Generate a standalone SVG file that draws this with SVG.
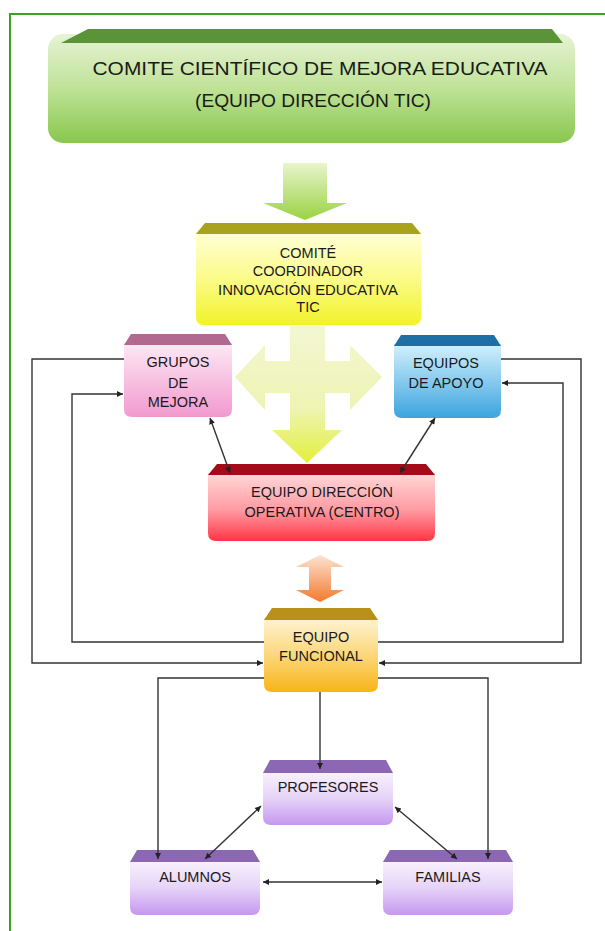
<svg xmlns="http://www.w3.org/2000/svg" width="605" height="931" viewBox="0 0 605 931">
<style>
  .t { font-family: "Liberation Sans", Arial, sans-serif; fill: #1a1a1a; text-anchor: middle; font-size: 14.5px; }
  .tb { font-size: 19px; }
  .c { fill: none; stroke: #333; stroke-width: 1.4; }
  .a { marker-end: url(#ah); }
  .d { marker-start: url(#ah); marker-end: url(#ah); }
</style>
<defs>
  <marker id="ah" viewBox="0 0 10 10" refX="10" refY="5" markerWidth="8" markerHeight="6" markerUnits="userSpaceOnUse" orient="auto-start-reverse">
    <path d="M0,0 L10,5 L0,10 Z" fill="#222"/>
  </marker>
  <linearGradient id="gGreen" x1="0" y1="0" x2="0" y2="1"><stop offset="0" stop-color="#e6f3d4"/><stop offset="0.5" stop-color="#bfe297"/><stop offset="1" stop-color="#88c74e"/></linearGradient>
  <linearGradient id="gGreenArrow" x1="0" y1="0" x2="0" y2="1"><stop offset="0" stop-color="#e8f5cc"/><stop offset="1" stop-color="#9ad243"/></linearGradient>
  <linearGradient id="gYellow" x1="0" y1="0" x2="0" y2="1"><stop offset="0" stop-color="#ffffd6"/><stop offset="0.5" stop-color="#fbfb8a"/><stop offset="1" stop-color="#f2f22a"/></linearGradient>
  <linearGradient id="gCross" x1="0" y1="0" x2="0" y2="1"><stop offset="0" stop-color="#f3f7d2"/><stop offset="0.6" stop-color="#eef4b4"/><stop offset="1" stop-color="#e3ef3a"/></linearGradient>
  <linearGradient id="gPink" x1="0" y1="0" x2="0" y2="1"><stop offset="0" stop-color="#fde9f5"/><stop offset="1" stop-color="#f299cf"/></linearGradient>
  <linearGradient id="gBlue" x1="0" y1="0" x2="0" y2="1"><stop offset="0" stop-color="#d4f1fc"/><stop offset="1" stop-color="#3ba4df"/></linearGradient>
  <linearGradient id="gRed" x1="0" y1="0" x2="0" y2="1"><stop offset="0" stop-color="#ffd8d8"/><stop offset="0.55" stop-color="#ff9aa2"/><stop offset="1" stop-color="#ff3444"/></linearGradient>
  <linearGradient id="gOrangeArrow" x1="0" y1="0" x2="0" y2="1"><stop offset="0" stop-color="#fde3d2"/><stop offset="1" stop-color="#f27a2e"/></linearGradient>
  <linearGradient id="gGold" x1="0" y1="0" x2="0" y2="1"><stop offset="0" stop-color="#fff3d4"/><stop offset="0.5" stop-color="#fcd77a"/><stop offset="1" stop-color="#f7b418"/></linearGradient>
  <linearGradient id="gPurple" x1="0" y1="0" x2="0" y2="1"><stop offset="0" stop-color="#f9f2fd"/><stop offset="0.5" stop-color="#e6d4f8"/><stop offset="1" stop-color="#c597ef"/></linearGradient>
</defs>

<rect width="605" height="931" fill="#ffffff"/>
<path d="M10,931 V14 H605" fill="none" stroke="#3aa324" stroke-width="2"/>

<g id="comite-cientifico">
  <rect x="48" y="34" width="527" height="109" rx="15" fill="url(#gGreen)"/>
  <path d="M61,43 L88,29 H552 L563,43 Z" fill="#5b9438"/>
  <text class="t tb" x="320" y="75" textLength="455" lengthAdjust="spacingAndGlyphs">COMITE CIENTÍFICO DE MEJORA EDUCATIVA</text>
  <text class="t tb" x="313" y="107" textLength="236" lengthAdjust="spacingAndGlyphs">(EQUIPO DIRECCIÓN TIC)</text>
</g>

<g id="arrow-green">
  <polygon points="283,163 327,163 327,203 347,203 305,220 263,203 283,203" fill="url(#gGreenArrow)"/>
</g>

<g id="comite-coordinador">
  <path d="M196,232 H421 V317 Q421,325 413,325 H204 Q196,325 196,317 Z" fill="url(#gYellow)"/>
  <path d="M196,234 L205,223 H412 L421,234 Z" fill="#a8a21c"/>
  <text class="t" x="308" y="258">COMITÉ</text>
  <text class="t" x="308" y="276">COORDINADOR</text>
  <text class="t" x="308" y="295" textLength="180" lengthAdjust="spacingAndGlyphs">INNOVACIÓN EDUCATIVA</text>
  <text class="t" x="308" y="312">TIC</text>
</g>

<g id="arrow-cross">
  <polygon points="290,326 325,326 325,361 350,361 350,345 382,377 350,410 350,393 325,393 325,430 342,430 307,463 272,430 290,430 290,393 265,393 265,410 235,377 265,345 265,361 290,361" fill="url(#gCross)"/>
</g>

<g id="grupos-mejora">
  <path d="M124,343 H232 V409 Q232,417 224,417 H132 Q124,417 124,409 Z" fill="url(#gPink)"/>
  <path d="M124,345 L131,334 H225 L232,345 Z" fill="#b2698f"/>
  <text class="t" x="178" y="367">GRUPOS</text>
  <text class="t" x="178" y="388">DE</text>
  <text class="t" x="178" y="407">MEJORA</text>
</g>

<g id="equipos-apoyo">
  <path d="M394,344 H501 V410 Q501,418 493,418 H402 Q394,418 394,410 Z" fill="url(#gBlue)"/>
  <path d="M394,346 L401,335 H494 L501,346 Z" fill="#1e6fa6"/>
  <text class="t" x="446" y="368">EQUIPOS</text>
  <text class="t" x="446" y="388">DE APOYO</text>
</g>

<g id="direccion-operativa">
  <path d="M208,473 H435 V533 Q435,541 427,541 H216 Q208,541 208,533 Z" fill="url(#gRed)"/>
  <path d="M208,475 L217,464 H426 L435,475 Z" fill="#a30a1a"/>
  <text class="t" x="322" y="497">EQUIPO DIRECCIÓN</text>
  <text class="t" x="322" y="517">OPERATIVA (CENTRO)</text>
</g>

<g id="arrow-orange">
  <polygon points="320,555 344,567 331,567 331,590 344,590 320,602 296,590 309,590 309,567 296,567" fill="url(#gOrangeArrow)"/>
</g>

<g id="equipo-funcional">
  <path d="M264,618 H378 V684 Q378,692 370,692 H272 Q264,692 264,684 Z" fill="url(#gGold)"/>
  <path d="M264,620 L272,608 H370 L378,620 Z" fill="#b8901a"/>
  <text class="t" x="321" y="642">EQUIPO</text>
  <text class="t" x="321" y="661">FUNCIONAL</text>
</g>

<g id="profesores">
  <path d="M263,771 H393 V817 Q393,825 385,825 H271 Q263,825 263,817 Z" fill="url(#gPurple)"/>
  <path d="M263,773 L270,760 H386 L393,773 Z" fill="#8c68b4"/>
  <text class="t" x="328" y="792">PROFESORES</text>
</g>

<g id="alumnos">
  <path d="M130,860 H260 V907 Q260,915 252,915 H138 Q130,915 130,907 Z" fill="url(#gPurple)"/>
  <path d="M130,862 L137,850 H253 L260,862 Z" fill="#8c68b4"/>
  <text class="t" x="195" y="882">ALUMNOS</text>
</g>

<g id="familias">
  <path d="M383,860 H513 V907 Q513,915 505,915 H391 Q383,915 383,907 Z" fill="url(#gPurple)"/>
  <path d="M383,862 L390,850 H506 L513,862 Z" fill="#8c68b4"/>
  <text class="t" x="448" y="882">FAMILIAS</text>
</g>

<g id="connectors">
  <path class="c a" d="M124,359 H32 V663 H263"/>
  <path class="c a" d="M264,642 H72 V394 H123"/>
  <path class="c a" d="M501,359 H581 V663 H379"/>
  <path class="c a" d="M378,642 H563 V383 H502"/>
  <path class="c d" d="M230,473 L210,418"/>
  <path class="c d" d="M400,473 L435,418"/>
  <path class="c a" d="M264,678 H158 V859"/>
  <path class="c a" d="M378,678 H488 V859"/>
  <path class="c a" d="M320,692 V769"/>
  <path class="c d" d="M205,859 L261,806"/>
  <path class="c d" d="M395,807 L457,859"/>
  <path class="c d" d="M263,882 H382"/>
</g>
</svg>
